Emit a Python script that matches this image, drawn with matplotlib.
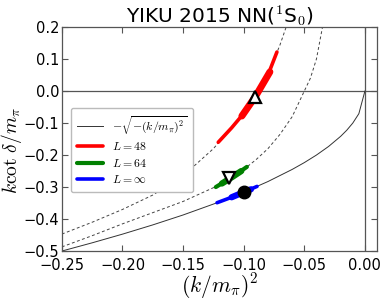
import matplotlib
matplotlib.use('Agg')
import matplotlib.pyplot as plt

plt.rcParams['mathtext.fontset'] = 'cm'

# curves
x_inf = [-0.25, -0.225, -0.2, -0.175, -0.15, -0.12, -0.1, -0.08, -0.06, -0.05,
         -0.04, -0.03, -0.02, -0.015, -0.01, -0.005, 0.0]
y_inf = [-0.5, -0.4743, -0.4472, -0.4183, -0.3873, -0.3464, -0.3162, -0.2828,
         -0.2449, -0.2236, -0.2, -0.1732, -0.1414, -0.1225, -0.1, -0.0707, 0.0]

x_48 = [-0.25, -0.225, -0.2, -0.175, -0.15, -0.125, -0.1, -0.09, -0.08, -0.07, -0.065]
y_48 = [-0.447, -0.41, -0.37, -0.325, -0.265, -0.18, -0.07, -0.02, 0.05, 0.145, 0.2]

x_64 = [-0.25, -0.225, -0.2, -0.175, -0.15, -0.125, -0.1, -0.09, -0.08, -0.07,
        -0.06, -0.05, -0.045, -0.04, -0.035]
y_64 = [-0.487, -0.452, -0.415, -0.38, -0.345, -0.302, -0.245, -0.215, -0.18,
        -0.135, -0.08, 0.0, 0.04, 0.1, 0.2]

# error bands (outer / inner)
red_x = [-0.121, -0.11, -0.1, -0.09, -0.08, -0.0726]
red_y = [-0.16, -0.115, -0.07, -0.015, 0.05, 0.122]
red_xi = [-0.1015, -0.09, -0.0784]
red_yi = [-0.078, -0.015, 0.06]

green_x = [-0.123, -0.11, -0.0974]
green_y = [-0.30, -0.27, -0.237]
green_xi = [-0.118, -0.11, -0.102]
green_yi = [-0.289, -0.27, -0.25]

blue_x = [-0.122, -0.11, -0.1, -0.089]
blue_y = [-0.349, -0.332, -0.316, -0.298]
blue_xi = [-0.11, -0.1, -0.094]
blue_yi = [-0.332, -0.316, -0.307]

pts_up = (-0.091, -0.019)
pts_down = (-0.112, -0.272)
pts_circ = (-0.1, -0.317)

fig = plt.figure(figsize=(3.82, 3.01), dpi=100)
ax = fig.add_axes([0.162, 0.166, 0.825, 0.744])

ax.axhline(0, color='#555555', lw=0.9, zorder=1)
ax.axvline(0, color='#555555', lw=0.9, zorder=1)

ax.plot(x_inf, y_inf, color='#333333', lw=0.7, label=r'$-\sqrt{-(k/m_\pi)^2}$')
ax.plot(x_48, y_48, color='#444444', lw=0.7, ls=(0, (3, 2.5)))
ax.plot(x_64, y_64, color='#444444', lw=0.7, ls=(0, (3, 2.5)))

ax.plot(red_x, red_y, color='red', lw=2.6, solid_capstyle='round', label=r'$L=48$')
ax.plot(red_xi, red_yi, color='red', lw=5, solid_capstyle='round')
ax.plot(green_x, green_y, color='green', lw=3, solid_capstyle='round', label=r'$L=64$')
ax.plot(green_xi, green_yi, color='green', lw=4.5, solid_capstyle='round')
ax.plot(blue_x, blue_y, color='blue', lw=2.6, solid_capstyle='round', label=r'$L=\infty$')
ax.plot(blue_xi, blue_yi, color='blue', lw=4.5, solid_capstyle='round')

ax.plot(*pts_up, marker='^', ms=8, mfc='white', mec='black', mew=1.6, zorder=5)
ax.plot(*pts_down, marker='v', ms=8, mfc='white', mec='black', mew=1.6, zorder=5)
ax.plot(*pts_circ, marker='o', ms=9, color='black', zorder=5)

ax.set_xlim(-0.25, 0.01)
ax.set_ylim(-0.5, 0.2)
ax.set_xticks([-0.25, -0.2, -0.15, -0.1, -0.05, 0.0])
ax.set_xticklabels(['\u22120.25', '\u22120.20', '\u22120.15', '\u22120.10', '\u22120.05', '0.00'])
ax.set_yticks([-0.5, -0.4, -0.3, -0.2, -0.1, 0.0, 0.1, 0.2])
ax.set_yticklabels(['\u22120.5', '\u22120.4', '\u22120.3', '\u22120.2', '\u22120.1', '0.0', '0.1', '0.2'])
ax.tick_params(direction='in', top=True, right=True, length=4, width=0.8,
               color='#555555', labelsize=10.5, pad=2)
ax.tick_params(axis='x', pad=5)
for s in ax.spines.values():
    s.set_color('#555555')
    s.set_linewidth(0.9)

ax.set_xlabel(r'$(k/m_\pi)^2$', fontsize=15.5, labelpad=-1)
ax.set_ylabel(r'$k\cot\,\delta/m_\pi$', fontsize=14)
ax.yaxis.set_label_coords(-0.12, 0.45)
ax.set_title(r'YIKU 2015 NN($^\mathsf{1}$S$_\mathsf{0}$)', fontsize=14.5, pad=3)

ax.legend(loc='upper left', bbox_to_anchor=(0.01, 0.665), fontsize=8.5,
          handlelength=2.2, labelspacing=0.3, borderpad=0.5, framealpha=1,
          edgecolor='#bbbbbb', fancybox=True)

fig.savefig('out.png', dpi=100)
